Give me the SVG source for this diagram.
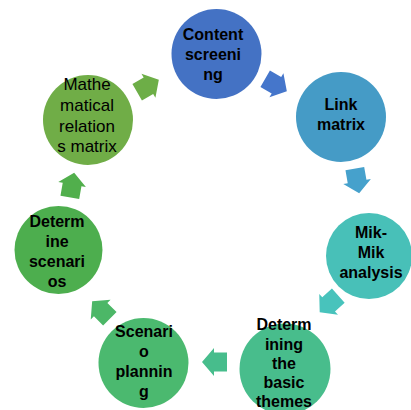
<svg xmlns="http://www.w3.org/2000/svg" width="411" height="410" viewBox="0 0 411 410">
<defs>
<style>
.t{font-family:"Liberation Sans",Arial,sans-serif;font-size:16px;font-weight:bold;fill:#000;text-anchor:middle}
.r{font-family:"Liberation Sans",Arial,sans-serif;font-size:17px;fill:#000;text-anchor:middle}
</style>
<path id="arr" d="M-12.5,-9.5 H0.5 V-14 L12.5,0 L0.5,14 V9.5 H-12.5 Z"/>
</defs>
<rect width="411" height="410" fill="#fff"/>
<g id="connectors">
<use href="#arr" fill="#4576CB" transform="translate(276,85) rotate(30)"/>
<use href="#arr" fill="#46A1CC" transform="translate(357,181) rotate(80)"/>
<use href="#arr" fill="#48C3BC" transform="translate(329,304) rotate(138)"/>
<use href="#arr" fill="#47BD8C" transform="translate(214.5,362) rotate(180)"/>
<use href="#arr" fill="#4CB767" transform="translate(101,310) rotate(225)"/>
<use href="#arr" fill="#51AF4C" transform="translate(72,185) rotate(-80)"/>
<use href="#arr" fill="#6DAE47" transform="translate(148,86) rotate(-30)"/>
</g>
<g id="n1">
<circle cx="216.5" cy="54" r="45" fill="#4472C4"/>
<text class="t" x="213" y="40">Content</text>
<text class="t" x="213" y="60">screeni</text>
<text class="t" x="213" y="80">ng</text>
</g>
<g id="n2">
<circle cx="341" cy="117" r="45" fill="#459BC6"/>
<text class="t" x="341" y="110">Link</text>
<text class="t" x="341" y="130">matrix</text>
</g>
<g id="n3">
<circle cx="369" cy="256" r="43" fill="#48C0B8"/>
<text class="t" x="371" y="238">Mik-</text>
<text class="t" x="371" y="258">Mik</text>
<text class="t" x="371" y="278">analysis</text>
</g>
<g id="n4">
<circle cx="285" cy="369" r="45.5" fill="#48BD8C"/>
<text class="t" x="284" y="330">Determ</text>
<text class="t" x="284" y="350">ining</text>
<text class="t" x="284" y="369">the</text>
<text class="t" x="284" y="388">basic</text>
<text class="t" x="284" y="407">themes</text>
</g>
<g id="n5">
<circle cx="143.5" cy="363" r="45" fill="#4BB96F"/>
<text class="t" x="144" y="337">Scenari</text>
<text class="t" x="144" y="357">o</text>
<text class="t" x="144" y="377">plannin</text>
<text class="t" x="144" y="397">g</text>
</g>
<g id="n6">
<circle cx="58.5" cy="250" r="44" fill="#4DAE4E"/>
<text class="t" x="57" y="227">Determ</text>
<text class="t" x="57" y="247">ine</text>
<text class="t" x="57" y="267">scenari</text>
<text class="t" x="57" y="287">os</text>
</g>
<g id="n7">
<circle cx="88" cy="120" r="45" fill="#70AD47"/>
<text class="r" x="87" y="90">Mathe</text>
<text class="r" x="87" y="111">matical</text>
<text class="r" x="87" y="132">relation</text>
<text class="r" x="87" y="152">s matrix</text>
</g>
</svg>
